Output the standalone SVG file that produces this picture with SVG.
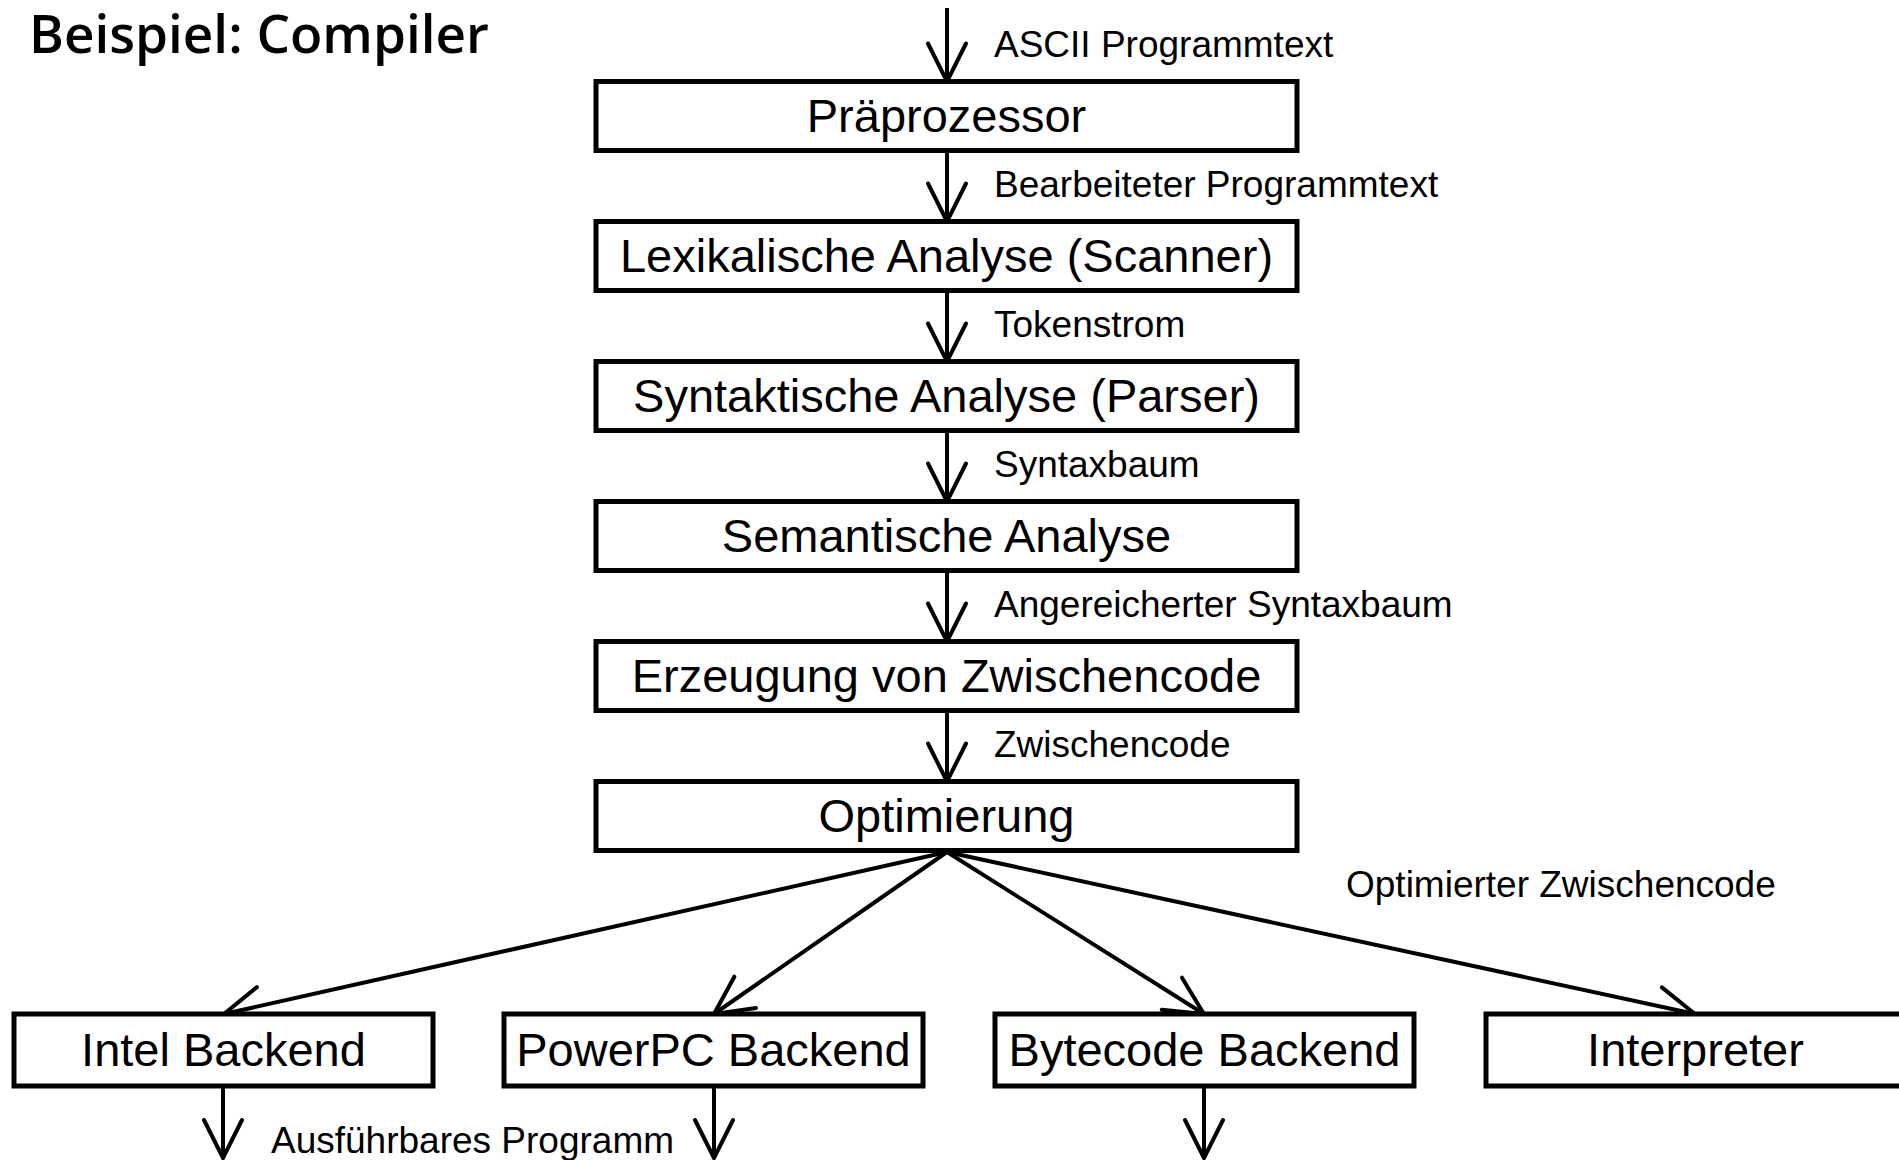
<svg xmlns="http://www.w3.org/2000/svg" width="1899" height="1160" viewBox="0 0 1899 1160">
  <style>
    .box { fill: #fff; stroke: #000; stroke-width: 5; }
    .node-text { font-family: "Liberation Sans", Arial, sans-serif; font-size: 47px; fill: #000; text-anchor: middle; }
    .label { font-family: "Liberation Sans", Arial, sans-serif; font-size: 37px; fill: #000; }
    .title { font-family: "Open Sans", "Noto Sans", sans-serif; font-size: 53px; font-weight: 600; fill: #000; }
    .edge { fill: none; stroke: #000; stroke-width: 4; marker-end: url(#open-arrow); }
  </style>
  <defs>
    <marker id="open-arrow" markerUnits="userSpaceOnUse" orient="auto" refX="0" refY="0" markerWidth="50" markerHeight="50" overflow="visible">
      <path d="M-38,-19 L0,0 L-38,19" fill="none" stroke="#000" stroke-width="4" stroke-linecap="round" stroke-linejoin="miter"/>
    </marker>
  </defs>

  <rect width="1899" height="1160" fill="#fff"/>

  <text class="title" x="29" y="53">Beispiel: Compiler</text>

  <!-- connectors -->
  <g id="connectors">
    <line class="edge" x1="947" y1="8" x2="947" y2="81.5"/>
    <line class="edge" x1="947" y1="151" x2="947" y2="221.5"/>
    <line class="edge" x1="947" y1="291" x2="947" y2="361.5"/>
    <line class="edge" x1="947" y1="431" x2="947" y2="501.5"/>
    <line class="edge" x1="947" y1="571" x2="947" y2="641.5"/>
    <line class="edge" x1="947" y1="711" x2="947" y2="781.5"/>
    <!-- fan-out to the back ends -->
    <line class="edge" x1="947" y1="852" x2="224" y2="1014"/>
    <line class="edge" x1="947" y1="852" x2="714" y2="1014"/>
    <line class="edge" x1="947" y1="852" x2="1204" y2="1014"/>
    <line class="edge" x1="947" y1="852" x2="1695" y2="1014"/>
    <!-- outputs -->
    <line class="edge" x1="223" y1="1087" x2="223" y2="1158"/>
    <line class="edge" x1="714" y1="1087" x2="714" y2="1158"/>
    <line class="edge" x1="1204" y1="1087" x2="1204" y2="1158"/>
  </g>

  <!-- connector labels -->
  <g id="edge-labels">
    <text class="label" x="994" y="57">ASCII Programmtext</text>
    <text class="label" x="994" y="197">Bearbeiteter Programmtext</text>
    <text class="label" x="994" y="337">Tokenstrom</text>
    <text class="label" x="994" y="477">Syntaxbaum</text>
    <text class="label" x="994" y="617">Angereicherter Syntaxbaum</text>
    <text class="label" x="994" y="757">Zwischencode</text>
    <text class="label" x="1346" y="897">Optimierter Zwischencode</text>
    <text class="label" x="271" y="1153">Ausführbares Programm</text>
  </g>

  <!-- pipeline stages -->
  <g id="praeprozessor">
    <rect class="box" x="596" y="81.5" width="701" height="69"/>
    <text class="node-text" x="946.5" y="132">Präprozessor</text>
  </g>
  <g id="scanner">
    <rect class="box" x="596" y="221.5" width="701" height="69"/>
    <text class="node-text" x="946.5" y="272">Lexikalische Analyse (Scanner)</text>
  </g>
  <g id="parser">
    <rect class="box" x="596" y="361.5" width="701" height="69"/>
    <text class="node-text" x="946.5" y="412">Syntaktische Analyse (Parser)</text>
  </g>
  <g id="semantik">
    <rect class="box" x="596" y="501.5" width="701" height="69"/>
    <text class="node-text" x="946.5" y="552">Semantische Analyse</text>
  </g>
  <g id="zwischencode">
    <rect class="box" x="596" y="641.5" width="701" height="69"/>
    <text class="node-text" x="946.5" y="692">Erzeugung von Zwischencode</text>
  </g>
  <g id="optimierung">
    <rect class="box" x="596" y="781.5" width="701" height="69"/>
    <text class="node-text" x="946.5" y="832">Optimierung</text>
  </g>

  <!-- back ends -->
  <g id="intel-backend">
    <rect class="box" x="14" y="1014" width="419" height="72"/>
    <text class="node-text" x="223.5" y="1066">Intel Backend</text>
  </g>
  <g id="powerpc-backend">
    <rect class="box" x="504" y="1014" width="419" height="72"/>
    <text class="node-text" x="713.5" y="1066">PowerPC Backend</text>
  </g>
  <g id="bytecode-backend">
    <rect class="box" x="995" y="1014" width="419" height="72"/>
    <text class="node-text" x="1204.5" y="1066">Bytecode Backend</text>
  </g>
  <g id="interpreter">
    <rect class="box" x="1486" y="1014" width="419" height="72"/>
    <text class="node-text" x="1695.5" y="1066">Interpreter</text>
  </g>
</svg>
